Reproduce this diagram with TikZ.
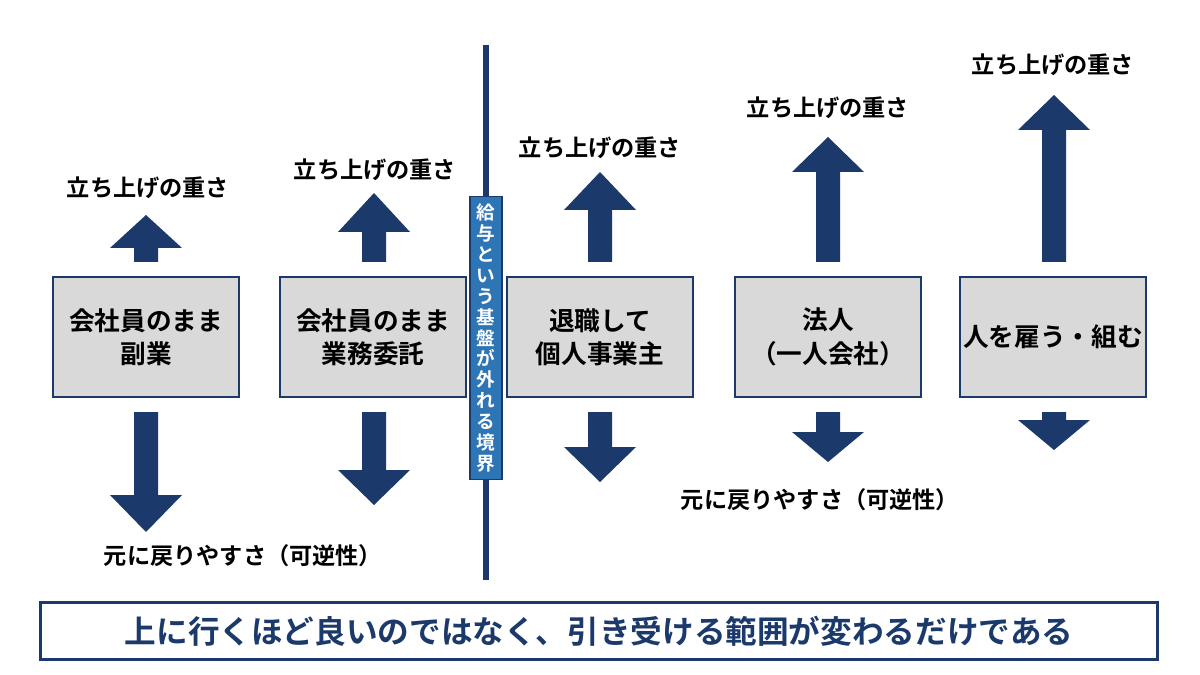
\documentclass[tikz,border=0pt]{standalone}
\usepackage{fontspec}
\setmainfont{Noto Sans CJK JP}[BoldFont={* Bold}]
\begin{document}
\begin{tikzpicture}[x=0.02cm,y=-0.02cm,
  box/.style={draw=navy,line width=1.6pt,fill=boxgray,minimum width=3.72cm,minimum height=2.4cm,align=center,font=\fontsize{14.6}{19}\selectfont\bfseries,inner sep=0pt},
  lab/.style={font=\fontsize{13.2}{16}\selectfont\bfseries,inner sep=0pt},
  arr/.style={fill=navy,draw=none}]
\definecolor{navy}{HTML}{1B3A6B}
\definecolor{boxgray}{HTML}{D9D9D9}
\definecolor{steel}{HTML}{2E75B6}
\useasboundingbox (0,0) rectangle (1200,675);
\fill[white] (0,0) rectangle (1200,675);
\newcommand{\uparr}[3]{\fill[navy] (#1-12,262) -- (#1-12,#3) -- (#1-36,#3) -- (#1,#2) -- (#1+36,#3) -- (#1+12,#3) -- (#1+12,262) -- cycle;}
\newcommand{\dnarr}[3]{\fill[navy] (#1-12,412) -- (#1-12,#3) -- (#1-36,#3) -- (#1,#2) -- (#1+36,#3) -- (#1+12,#3) -- (#1+12,412) -- cycle;}
\uparr{146}{215}{248}
\uparr{374}{193}{232}
\uparr{600}{172}{210}
\uparr{828}{137}{172}
\uparr{1054}{95}{130}
\dnarr{146}{532}{495}
\dnarr{374}{505}{470}
\dnarr{600}{482}{447}
\dnarr{828}{462}{432}
\dnarr{1054}{450}{420}
\node[box] (b1) at (146,337) {会社員のまま\\副業};
\node[box] (b2) at (373,337) {会社員のまま\\業務委託};
\node[box] (b3) at (600,337) {退職して\\個人事業主};
\node[box] (b4) at (828,337) {法人\\（一人会社）};
\node[box] (b5) at (1053,337) {人を雇う・組む};
\node[lab] (u1) at (148,188) {立ち上げの重さ};
\node[lab] (u2) at (375,170) {立ち上げの重さ};
\node[lab] (u3) at (600,148) {立ち上げの重さ};
\node[lab] (u4) at (828,108) {立ち上げの重さ};
\node[lab] (u5) at (1053,65) {立ち上げの重さ};
\node[lab] (d1) at (243,556) {元に戻りやすさ（可逆性）};
\node[lab] (d2) at (820,500) {元に戻りやすさ（可逆性）};
\coordinate (lt) at (486,45); \coordinate (lb) at (486,580);
\draw[navy,line width=3pt] (lt) -- (lb);
\node[fill=steel,draw=navy,line width=0.8pt,text=white,minimum width=0.64cm,minimum height=5.66cm,inner sep=0pt,align=center,font=\fontsize{10.6}{11.9}\selectfont\bfseries] (v) at (486,338) {給\\与\\と\\い\\う\\基\\盤\\が\\外\\れ\\る\\境\\界};
\node[draw=navy,line width=1.6pt,fill=white,minimum width=22.36cm,minimum height=1.14cm,font=\fontsize{18}{22}\selectfont\bfseries,text=navy] (bot) at (599,631) {上に行くほど良いのではなく、引き受ける範囲が変わるだけである};
\end{tikzpicture}
\end{document}
